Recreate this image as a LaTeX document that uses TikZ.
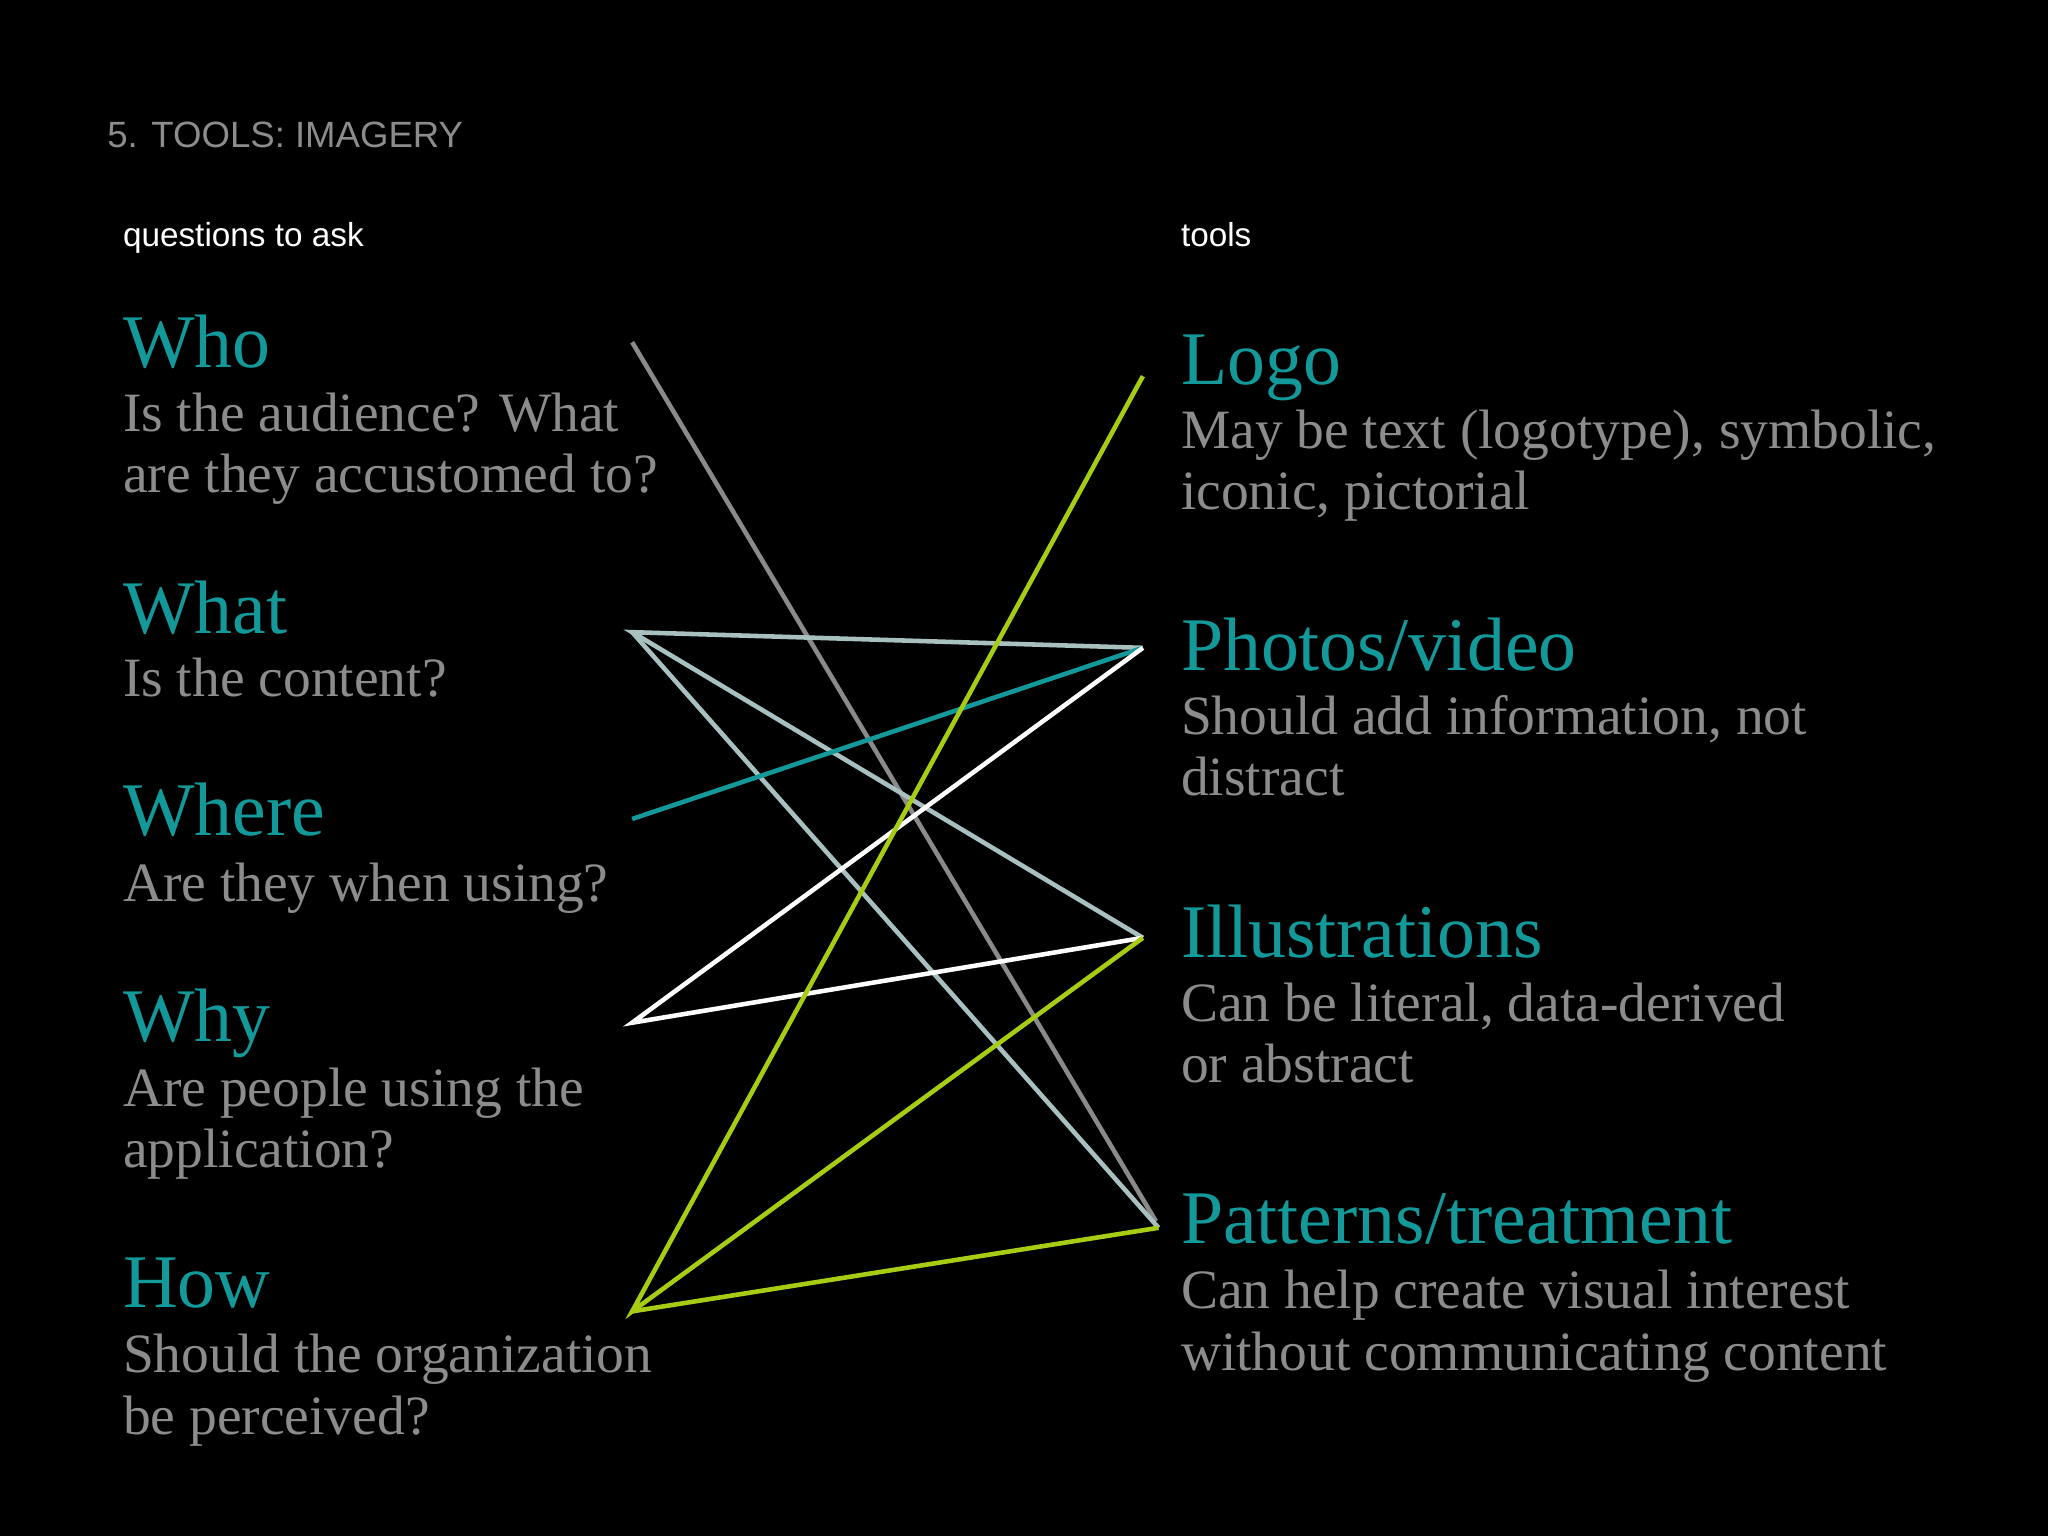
\documentclass[tikz,border=0pt]{standalone}
\usepackage{fontspec}
\setmainfont{Liberation Serif}
\setsansfont{Liberation Sans}
\begin{document}
\begin{tikzpicture}[x=1pt,y=-1pt,
  head/.style={anchor=base west,inner sep=0pt,text=tealc,font=\fontsize{58}{58}\selectfont},
  body/.style={anchor=base west,inner sep=0pt,text=grayt,align=left,font=\fontsize{42.5}{47}\selectfont},
  ln/.style={line width=3.5pt}]
\definecolor{tealc}{HTML}{14999A}
\definecolor{grayt}{HTML}{8C8C8C}
\definecolor{grn}{HTML}{A6CC14}
\definecolor{lst}{HTML}{A8C0C0}
\definecolor{gln}{HTML}{8A8A8A}
\fill[black] (0,0) rectangle (1568,1176);
\useasboundingbox (0,0) rectangle (1568,1176);
\node[anchor=base west,inner sep=0pt,text=grayt,font=\sffamily\fontsize{28}{28}\selectfont] (title) at (82,113) {5. TOOLS: IMAGERY};
\node[anchor=base west,inner sep=0pt,text=white,font=\sffamily\fontsize{25.5}{25.5}\selectfont] (qa) at (94,189) {questions to ask};
\node[anchor=base west,inner sep=0pt,text=white,font=\sffamily\fontsize{25.5}{25.5}\selectfont] (tl) at (904,189) {tools};
\node[head] (who) at (94,281) {Who};
\node[body] (whob) at (94,377) {Is the audience? What\\are they accustomed to?};
\node[head] (what) at (94,485) {What};
\node[body] (whatb) at (94,533) {Is the content?};
\node[head] (where) at (94,640) {Where};
\node[body] (whereb) at (94,690) {Are they when using?};
\node[head] (why) at (94,797) {Why};
\node[body] (whyb) at (94,894) {Are people using the\\application?};
\node[head] (how) at (94,1001) {How};
\node[body] (howb) at (94,1098) {Should the organization\\be perceived?};
\node[head] (logo) at (904,294) {Logo};
\node[body] (logob) at (904,390) {May be text (logotype), symbolic,\\iconic, pictorial};
\node[head] (photo) at (904,513) {Photos/video};
\node[body] (photob) at (904,609) {Should add information, not\\distract};
\node[head] (ill) at (904,733) {Illustrations};
\node[body] (illb) at (904,829) {Can be literal, data-derived\\or abstract};
\node[head] (pat) at (904,952) {Patterns/treatment};
\node[body] (patb) at (904,1049) {Can help create visual interest\\without communicating content};
\coordinate (qwho) at (484,262);
\coordinate (qwhat) at (484,484);
\coordinate (qwhere) at (484,627);
\coordinate (qwhy) at (484,783);
\coordinate (qhow) at (484,1004);
\coordinate (tlogo) at (875,288);
\coordinate (tphoto) at (875,496);
\coordinate (till) at (875,718);
\coordinate (tpat) at (887,940);
\coordinate (tpat2) at (885,935);
\draw[ln,gln] (qwho) -- (tpat2);
\draw[ln,lst] (tphoto) -- (qwhat) -- (till);
\draw[ln,lst] (qwhat) -- (tpat);
\draw[ln,tealc] (qwhere) -- (tphoto);
\draw[ln,white] (tphoto) -- (qwhy) -- (till);
\draw[ln,grn] (tlogo) -- (qhow) -- (till);
\draw[ln,grn] (qhow) -- (tpat);
\end{tikzpicture}
\end{document}
